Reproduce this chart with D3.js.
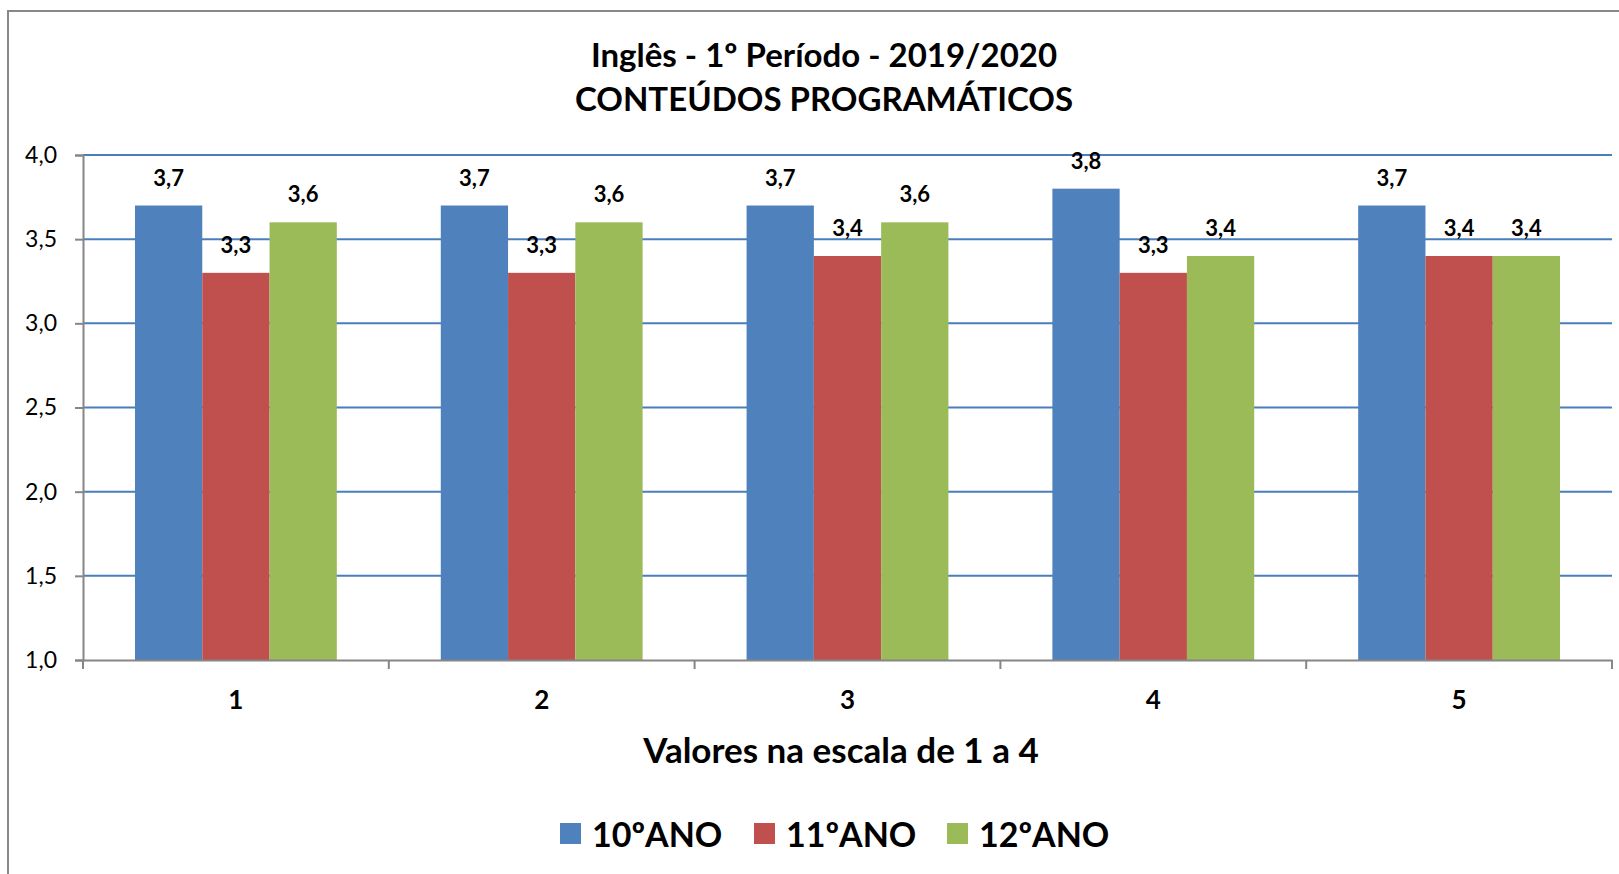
<!DOCTYPE html>
<html>
<head>
<meta charset="utf-8">
<script src="https://cdn.jsdelivr.net/npm/d3@7"></script>
<style>
  html, body { margin: 0; padding: 0; background: #fff; }
  svg { display: block; font-family: Lato, "Open Sans", sans-serif; }
</style>
</head>
<body>
<div id="chart"></div>
<script>
const categories = ['1', '2', '3', '4', '5'];
const seriesNames = ['10ºANO', '11ºANO', '12ºANO'];
const ano10 = [3.7, 3.7, 3.7, 3.8, 3.7];
const ano11 = [3.3, 3.3, 3.4, 3.3, 3.4];
const ano12 = [3.6, 3.6, 3.6, 3.4, 3.4];
const yTicks = [1.0, 1.5, 2.0, 2.5, 3.0, 3.5, 4.0];
const colors = ['#4F81BD', '#C0504D', '#9BBB59'];

const series = [ano10, ano11, ano12];
const width = 1619, height = 874;
const plot = { left: 83, right: 1612, top: 155, bottom: 660 };
const fmt = v => v.toFixed(1).replace('.', ',');

const svg = d3.select('#chart').append('svg')
  .attr('width', width)
  .attr('height', height);

// chart frame (runs off the right and bottom edges)
svg.append('rect')
  .attr('x', 8).attr('y', 11)
  .attr('width', width + 20).attr('height', height + 20)
  .attr('fill', 'none')
  .attr('stroke', '#888').attr('stroke-width', 2);

const x = d3.scaleBand()
  .domain(categories)
  .range([plot.left, plot.right]);

const gap = x.bandwidth() * 0.17;
const xs = d3.scaleBand()
  .domain(d3.range(series.length))
  .range([gap, x.bandwidth() - gap]);

const y = d3.scaleLinear()
  .domain([1, 4])
  .range([plot.bottom, plot.top]);

// gridlines
svg.append('g')
  .selectAll('line')
  .data(yTicks.filter(t => t > 1))
  .join('line')
  .attr('x1', plot.left).attr('x2', plot.right)
  .attr('y1', d => y(d)).attr('y2', d => y(d))
  .attr('stroke', '#4A7EBB').attr('stroke-width', 2);

// y axis
const yAxis = svg.append('g')
  .attr('transform', `translate(${plot.left},0)`)
  .call(d3.axisLeft(y).tickValues(yTicks).tickFormat(fmt).tickSize(8).tickPadding(18));
yAxis.select('.domain').attr('stroke', '#868686').attr('stroke-width', 2);
yAxis.selectAll('.tick line').attr('stroke', '#868686').attr('stroke-width', 2);
yAxis.selectAll('.tick text')
  .attr('font-family', 'Lato, sans-serif')
  .attr('font-size', 23)
  .attr('fill', '#000');

// bars
const groups = svg.append('g')
  .selectAll('g')
  .data(categories)
  .join('g')
  .attr('transform', d => `translate(${x(d)},0)`);

groups.selectAll('rect')
  .data((d, i) => series.map((s, k) => ({ k, v: s[i] })))
  .join('rect')
  .attr('x', d => xs(d.k))
  .attr('width', xs.bandwidth())
  .attr('y', d => y(d.v))
  .attr('height', d => y(1) - y(d.v))
  .attr('fill', d => colors[d.k]);

groups.selectAll('text')
  .data((d, i) => series.map((s, k) => ({ k, v: s[i] })))
  .join('text')
  .attr('x', d => xs(d.k) + xs.bandwidth() / 2)
  .attr('y', d => y(d.v) - 20)
  .attr('text-anchor', 'middle')
  .attr('font-size', 22)
  .attr('font-weight', 'bold')
  .text(d => fmt(d.v));

// x axis
const xAxis = svg.append('g')
  .attr('transform', `translate(0,${plot.bottom})`)
  .call(d3.axisBottom(x).tickSize(0).tickPadding(31));
xAxis.select('.domain').attr('stroke', '#868686').attr('stroke-width', 2);
xAxis.selectAll('.tick text')
  .attr('font-family', 'Lato, sans-serif')
  .attr('font-size', 26)
  .attr('font-weight', 'bold')
  .attr('fill', '#000');

svg.append('g')
  .selectAll('line')
  .data(categories.map(c => x(c)).concat([plot.right]))
  .join('line')
  .attr('x1', d => d).attr('x2', d => d)
  .attr('y1', plot.bottom).attr('y2', plot.bottom + 9)
  .attr('stroke', '#868686').attr('stroke-width', 2);

// titles
const title = svg.append('text')
  .attr('text-anchor', 'middle')
  .attr('font-size', 33)
  .attr('font-weight', 'bold');
title.append('tspan').attr('x', 824).attr('y', 67).text('Inglês - 1º Período - 2019/2020');
title.append('tspan').attr('x', 824).attr('y', 111).text('CONTEÚDOS PROGRAMÁTICOS');

svg.append('text')
  .attr('x', 841).attr('y', 763)
  .attr('text-anchor', 'middle')
  .attr('font-size', 35)
  .attr('font-weight', 'bold')
  .text('Valores na escala de 1 a 4');

// legend
const legendX = [560, 754, 947];
const legend = svg.append('g')
  .selectAll('g')
  .data(seriesNames)
  .join('g')
  .attr('transform', (d, i) => `translate(${legendX[i]},823)`);
legend.append('rect')
  .attr('width', 21).attr('height', 21)
  .attr('fill', (d, i) => colors[i]);
legend.append('text')
  .attr('x', 32).attr('y', 24)
  .attr('font-size', 34)
  .attr('font-weight', 'bold')
  .text(d => d);
</script>
</body>
</html>
